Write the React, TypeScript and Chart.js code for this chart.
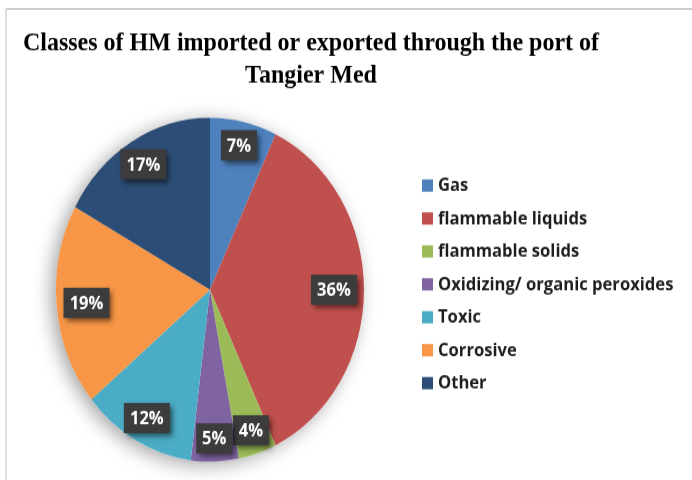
import React, { useEffect, useRef } from 'react';
import { Chart, registerables } from 'chart.js';

Chart.register(...registerables);

// ---- data ----
const titleLines = ['Classes of HM imported or exported through the port of', 'Tangier Med'];
const categories = [
  'Gas',
  'flammable liquids',
  'flammable solids',
  'Oxidizing/ organic peroxides',
  'Toxic',
  'Corrosive',
  'Other',
];
const shares = [7, 36, 4, 5, 12, 19, 17];
const sliceColors = ['#4F81BD', '#C0504D', '#9BBB59', '#8064A2', '#4BACC6', '#F79646', '#2C4D75'];

// ---- layout ----
const W = 692;
const H = 480;
const SY = 1.1163; // the reference picture is stretched vertically
const RH = Math.round(H / SY);
const PIE_CX = 210;
const PIE_CY = 259.6;
const PIE_R = 154;

const pieShadow = {
  id: 'pieShadow',
  beforeDatasetsDraw(chart: any) {
    const meta = chart.getDatasetMeta(0);
    if (!meta.data.length) return;
    const p = meta.data[0].getProps(['x', 'y', 'outerRadius'], true);
    const ctx = chart.ctx;
    ctx.save();
    ctx.shadowColor = 'rgba(0,0,0,0.36)';
    ctx.shadowBlur = 18;
    ctx.shadowOffsetX = -5;
    ctx.shadowOffsetY = 3;
    ctx.beginPath();
    ctx.arc(p.x, p.y, p.outerRadius, 0, Math.PI * 2);
    ctx.fillStyle = '#ffffff';
    ctx.fill();
    ctx.restore();
  },
};

const boxLabels = {
  id: 'boxLabels',
  afterDatasetsDraw(chart: any) {
    const meta = chart.getDatasetMeta(0);
    const ctx = chart.ctx;
    const values = chart.data.datasets[0].data as number[];
    ctx.save();
    ctx.font = 'bold 16.5px "Open Sans"';
    ctx.textAlign = 'center';
    ctx.textBaseline = 'middle';
    meta.data.forEach((arc: any, i: number) => {
      const p = arc.getProps(['x', 'y', 'startAngle', 'endAngle', 'outerRadius'], true);
      const mid = (p.startAngle + p.endAngle) / 2;
      const theta = mid + Math.PI / 2;
      const f = 0.865 - 0.06 * Math.sin(theta) * Math.sin(theta);
      const lx = p.x + Math.cos(mid) * p.outerRadius * f;
      const ly = p.y + Math.sin(mid) * p.outerRadius * f;
      const text = values[i] + '%';
      const tw = ctx.measureText(text).width;
      const bw = Math.round(tw + 12);
      const bh = 27;
      ctx.save();
      ctx.shadowColor = 'rgba(0,0,0,0.55)';
      ctx.shadowBlur = 5;
      ctx.shadowOffsetX = 3;
      ctx.shadowOffsetY = 3;
      ctx.fillStyle = '#3c3c3c';
      ctx.fillRect(lx - bw / 2, ly - bh / 2, bw, bh);
      ctx.restore();
      ctx.fillStyle = '#ffffff';
      ctx.fillText(text, lx, ly + 1);
    });
    ctx.restore();
  },
};

const titleAndLegend = {
  id: 'titleAndLegend',
  afterDraw(chart: any) {
    const ctx = chart.ctx;
    ctx.save();
    // title
    ctx.fillStyle = '#000000';
    ctx.font = 'bold 24px "Liberation Serif"';
    ctx.textAlign = 'center';
    ctx.textBaseline = 'alphabetic';
    ctx.fillText(titleLines[0], 311, 44.8);
    ctx.fillText(titleLines[1], 311, 74.2);
    // legend
    const labels = chart.data.labels as string[];
    const cols = chart.data.datasets[0].backgroundColor as string[];
    ctx.font = 'bold 16.6px "Open Sans"';
    ctx.textAlign = 'left';
    ctx.textBaseline = 'middle';
    labels.forEach((lab, i) => {
      const cy = 166.2 + i * 29.5;
      ctx.fillStyle = cols[i];
      ctx.fillRect(422, cy - 5.5, 11, 11);
      ctx.fillStyle = '#1e1e1e';
      ctx.fillText(lab, 438, cy + 0.5);
    });
    ctx.restore();
  },
};

export default function App() {
  const ref = useRef<HTMLCanvasElement | null>(null);
  useEffect(() => {
    if (!ref.current) return;
    const chart = new Chart(ref.current, {
      type: 'pie',
      data: {
        labels: categories,
        datasets: [
          {
            data: shares,
            backgroundColor: sliceColors,
            borderWidth: 0,
            hoverOffset: 0,
          },
        ],
      },
      options: {
        responsive: false,
        maintainAspectRatio: false,
        devicePixelRatio: 1,
        animation: false,
        events: [],
        layout: {
          padding: {
            left: PIE_CX - PIE_R,
            right: W - (PIE_CX + PIE_R),
            top: PIE_CY - PIE_R,
            bottom: RH - (PIE_CY + PIE_R),
          },
        },
        plugins: {
          legend: { display: false },
          title: { display: false },
          tooltip: { enabled: false },
        },
      },
      plugins: [pieShadow, boxLabels, titleAndLegend],
    });
    return () => chart.destroy();
  }, []);

  return (
    <div style={{ position: 'absolute', left: 0, top: 0, width: W, height: H, background: '#ffffff', overflow: 'hidden' }}>
      <canvas
        ref={ref}
        width={W}
        height={RH}
        style={{ position: 'absolute', left: 0, top: 0, width: W + 'px', height: H + 'px', display: 'block' }}
      />
      <div style={{ position: 'absolute', left: 5, top: 8, width: W - 5, height: 2, background: '#cdcdcd' }} />
      <div style={{ position: 'absolute', left: 5, top: 8, width: 2, height: H - 8, background: '#e0e0e0' }} />
    </div>
  );
}
